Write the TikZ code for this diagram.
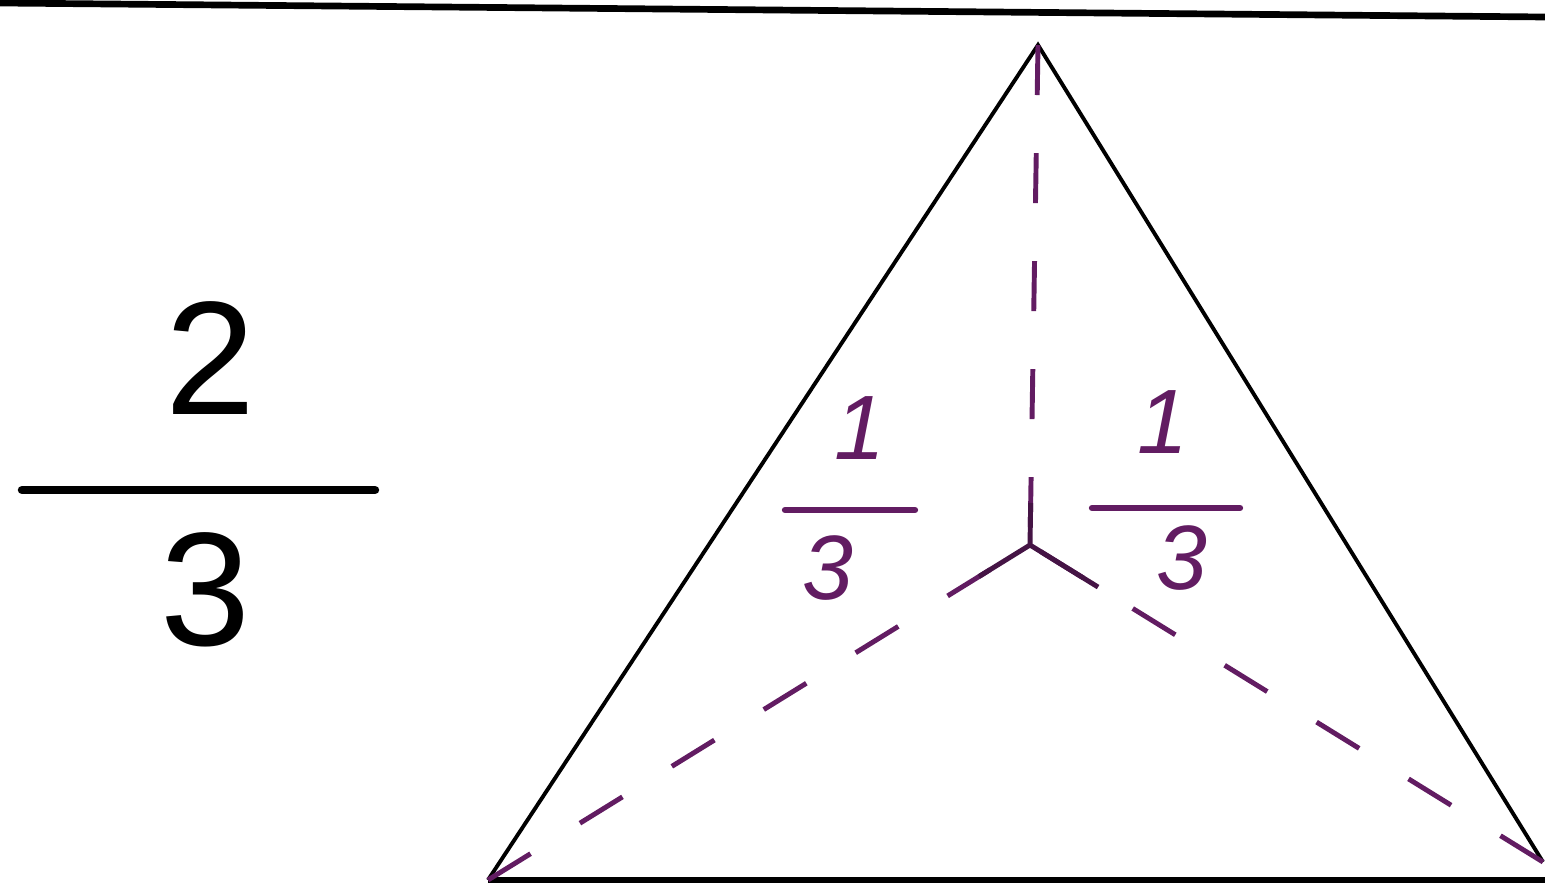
\documentclass[tikz,border=0pt]{standalone}
\usepackage{fontspec}
\setsansfont{Liberation Sans}
\usetikzlibrary{calc}
\definecolor{inkpurple}{RGB}{98,28,98}
\begin{document}
\begin{tikzpicture}[
  x=0.01cm, y=-0.01cm,
  bignum/.style={inner sep=0pt,font=\sffamily\fontsize{46}{50}\selectfont},
  smallnum/.style={inner sep=0pt,text=inkpurple,font=\sffamily\itshape\fontsize{26}{30}\selectfont},
  fracbar/.style={line width=2.4pt,line cap=round},
  smallbar/.style={inkpurple,line width=1.8pt,line cap=round},
  edge/.style={line width=1.1pt},
  median/.style={inkpurple,line width=1.4pt,dash pattern=on 0.5cm off 0.58cm},
  stub/.style={inkpurple!70!black,line width=1.4pt}
]
  \useasboundingbox (0,0) rectangle (1545,888);

  \draw[line width=1.9pt] (0,3) -- (1545,17);

  \node[bignum] (two)   at (210,358) {2};
  \node[bignum] (three) at (205,590) {3};
  \draw[fracbar] (22,490) -- (375,490);

  \coordinate (A) at (1038,45);
  \coordinate (B) at (488,880);
  \coordinate (C) at (1543,862);
  \coordinate (O) at (1030,545);

  \draw[edge] (B) -- (A) -- (C);
  \draw[line width=1.6pt] (B) -- (1545,880);

  \draw[median] (A) -- (O);
  \draw[median] (B) -- (O);
  \draw[median] (C) -- (O);
  \draw[stub] (O) -- ($(O)!0.42cm!(A)$);
  \draw[stub] (O) -- ($(O)!0.6cm!(B)$);
  \draw[stub] (O) -- ($(O)!0.8cm!(C)$);

  \node[smallnum] (oneL)   at (860,428) {1};
  \node[smallnum] (threeL) at (828,568) {3};
  \draw[smallbar] (785,510) -- (915,510);
  \node[smallnum] (oneR)   at (1163,422) {1};
  \node[smallnum] (threeR) at (1182,558) {3};
  \draw[smallbar] (1092,508) -- (1240,508);
\end{tikzpicture}
\end{document}
